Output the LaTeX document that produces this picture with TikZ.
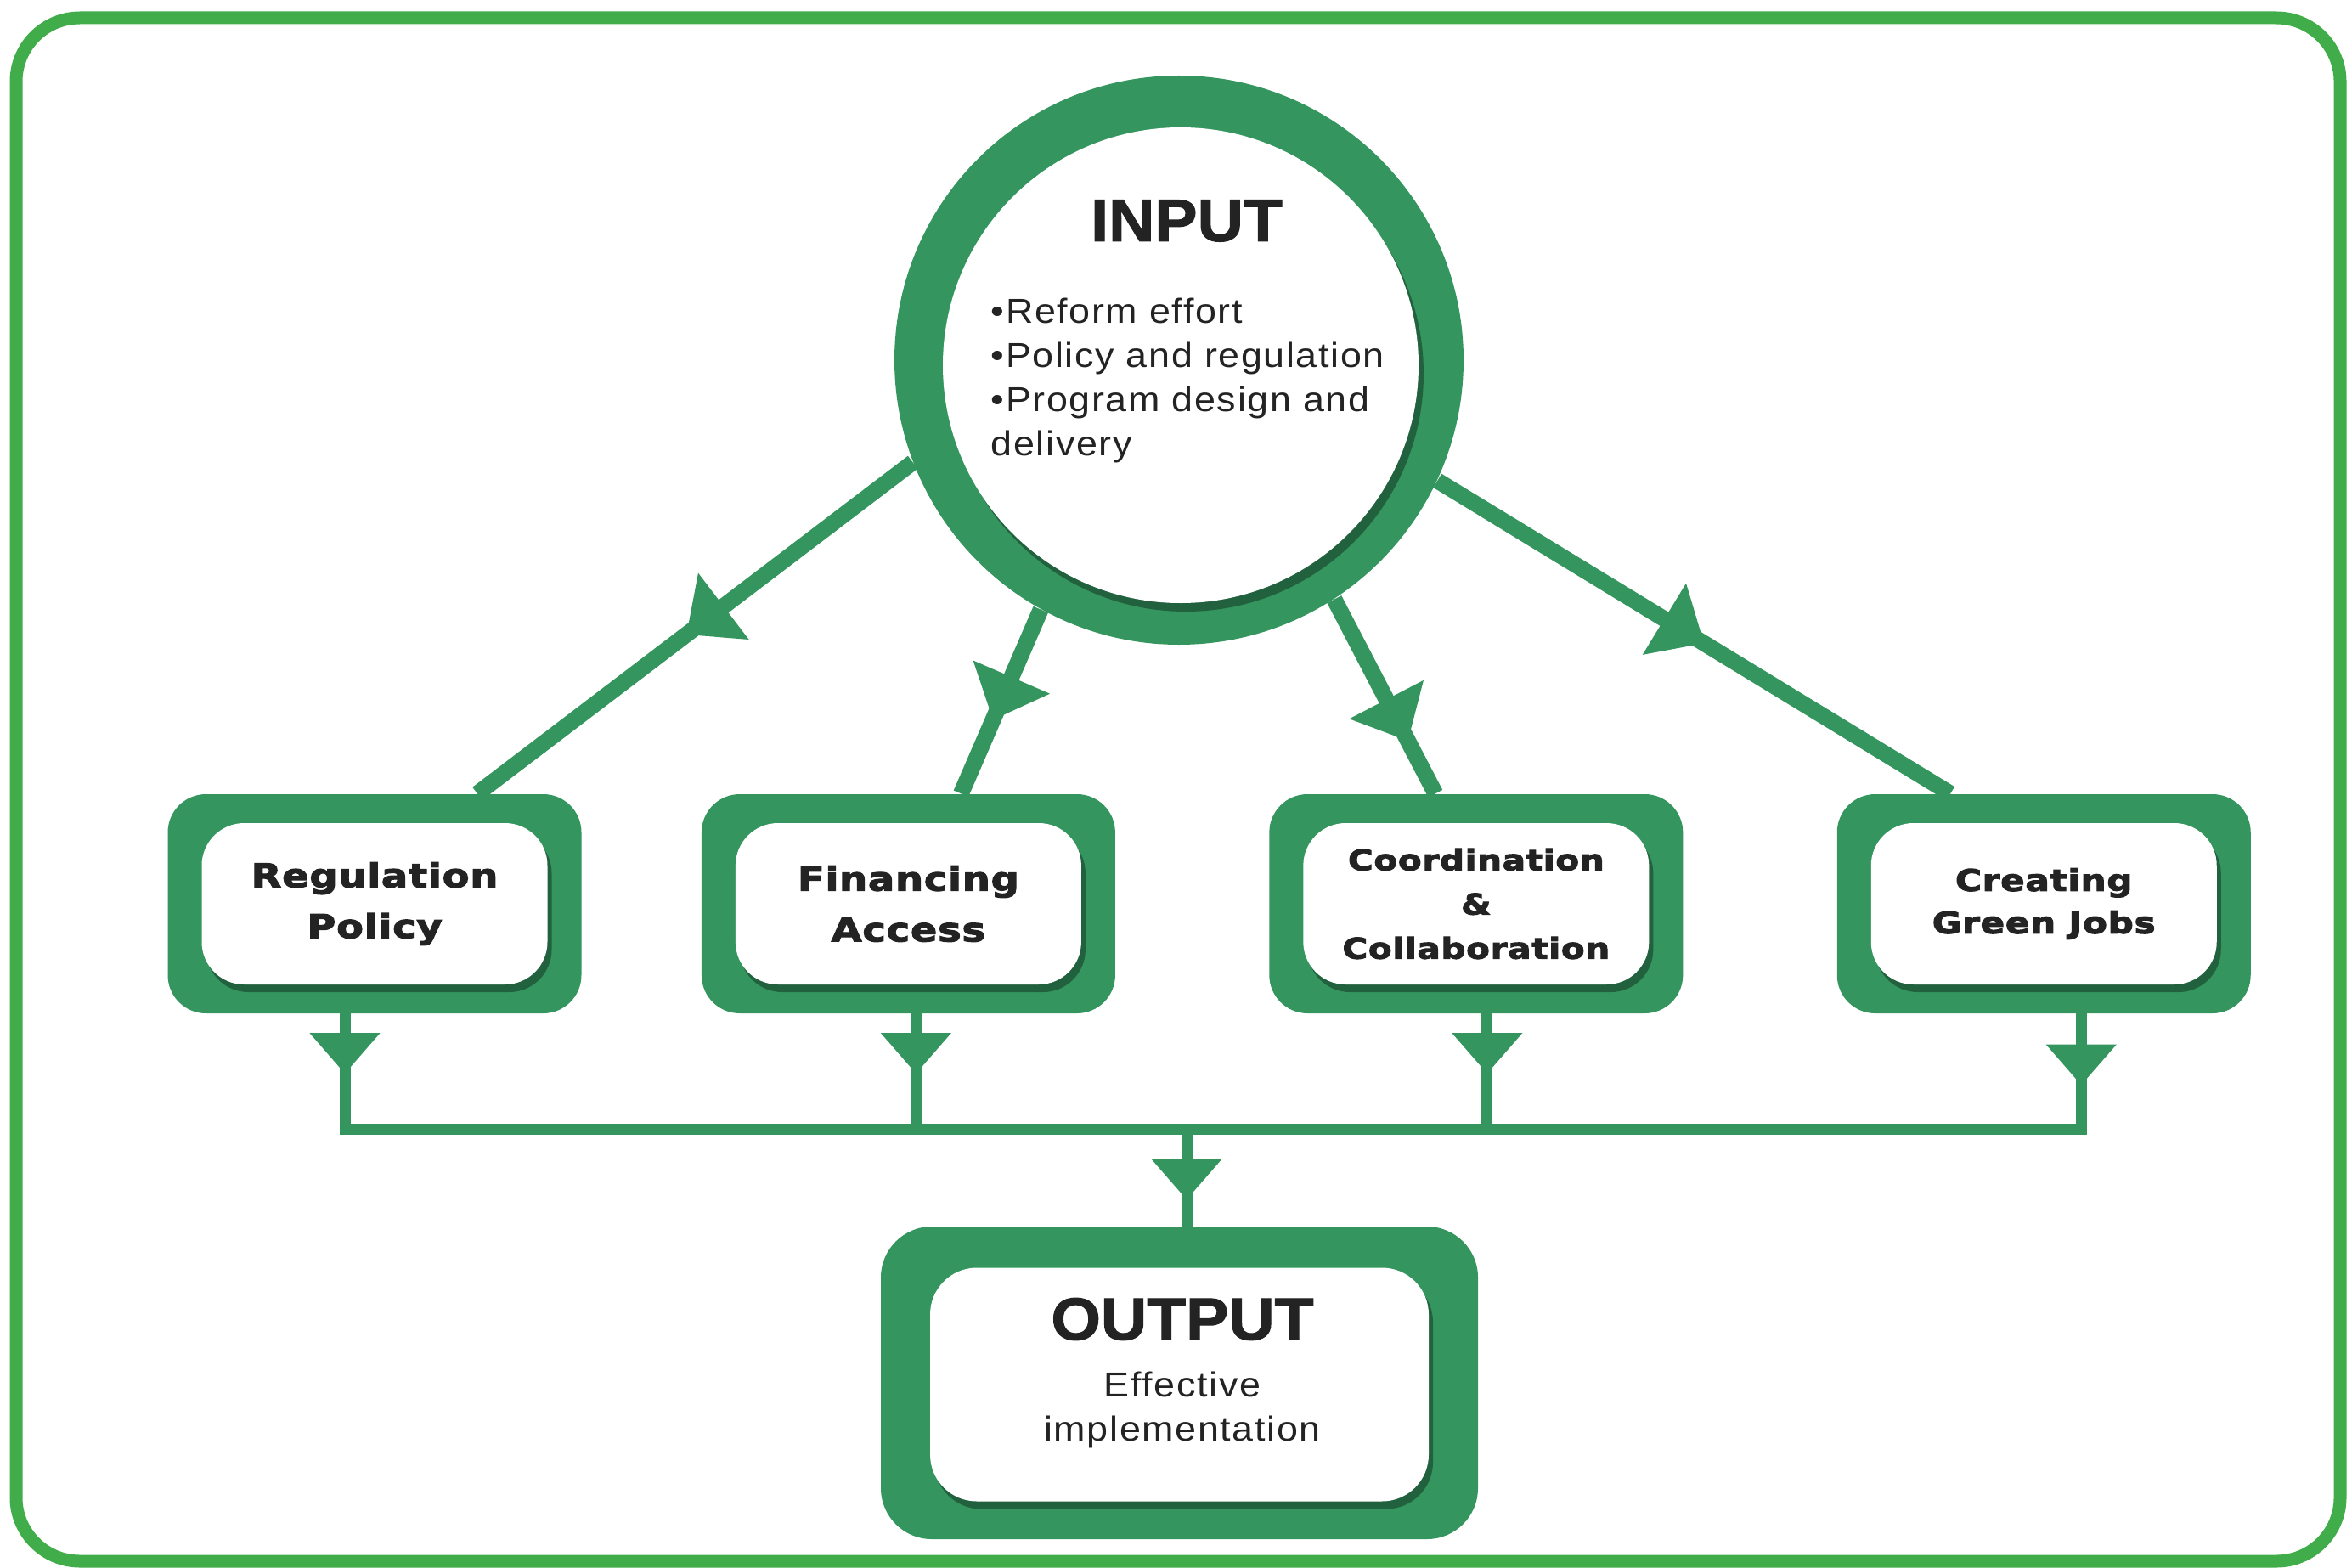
\documentclass[tikz,border=0pt]{standalone}
\usepackage{fontspec}
\setmainfont{Liberation Sans}
\newfontfamily\bodyfont{Liberation Sans}[FakeStretch=1.1,LetterSpace=4]
\newfontfamily\boxfont{DejaVu Sans}[FakeStretch=1.2,LetterSpace=2,FakeBold=3]
\newfontfamily\headfont{Liberation Sans}[FakeStretch=1.07,FakeBold=1.5]
\usetikzlibrary{arrows.meta, positioning, shadows, decorations.markings}

\definecolor{ringgreen}{RGB}{52,150,94}
\definecolor{framegreen}{RGB}{64,173,74}
\definecolor{inktext}{RGB}{35,35,35}

\tikzset{
  outbox/.style={rectangle, rounded corners=0.45cm, fill=ringgreen, minimum width=4.87cm, minimum height=2.58cm, inner sep=0pt},
  inbox/.style={rectangle, rounded corners=0.5cm, fill=white, minimum width=4.07cm, minimum height=1.90cm, inner sep=0pt, align=center, text=inktext, drop shadow={shadow xshift=0.05cm, shadow yshift=-0.09cm, fill=black, opacity=0.35}},
  link/.style={color=ringgreen, line width=0.19cm},
  drop/.style={color=ringgreen, line width=0.13cm, line cap=rect},
  bigarrow/.style={postaction={decorate}, decoration={markings, mark=at position #1 with {\arrow{Triangle[width=0.95cm,length=0.55cm]}}}},
  midarrow/.style={postaction={decorate}, decoration={markings, mark=at position #1 with {\arrow{Triangle[width=0.8cm,length=0.48cm]}}}},
  headtext/.style={font=\headfont\bfseries\fontsize{20pt}{20pt}\selectfont, text=inktext, inner sep=0pt},
  bodytext/.style={font=\bodyfont\fontsize{11.6pt}{14.8pt}\selectfont, text=inktext, inner sep=0pt},
}

\begin{document}
\begin{tikzpicture}
\useasboundingbox (0,0) rectangle (27.69,-18.45);
\draw[framegreen, line width=0.15cm, rounded corners=0.75cm] (0.19,-0.21) rectangle (27.55,-18.38);

% input circle
\node[circle, fill=ringgreen, minimum size=6.7cm, inner sep=0pt] (input) at (13.88,-4.24) {};
\node[circle, fill=white, minimum size=5.6cm, inner sep=0pt, drop shadow={shadow xshift=0.06cm, shadow yshift=-0.1cm, fill=black, opacity=0.35}] (input-bg) at (13.90,-4.30) {};
\node[headtext] (intitle) at (13.97,-2.60) {INPUT};
\node[bodytext, align=left, anchor=north west] (inlist) at (11.66,-3.50) {\textbullet Reform effort\\\textbullet Policy and regulation\\\textbullet Program design and\\delivery};

% middle boxes
\node[outbox] (reg) at (4.41,-10.64) {};
\node[outbox, right=1.40cm of reg] (fin) {};
\node[outbox, right=1.80cm of fin] (coo) {};
\node[outbox, right=1.80cm of coo] (job) {};
\node[inbox, font=\boxfont\bfseries\fontsize{11pt}{17pt}\selectfont] (reg-t) at (reg) {Regulation\\Policy};
\node[inbox, font=\boxfont\bfseries\fontsize{11pt}{17pt}\selectfont] (fin-t) at (fin) {Financing\\Access};
\node[inbox, font=\boxfont\bfseries\fontsize{9.6pt}{14.8pt}\selectfont] (coo-t) at (coo) {Coordination\\\&\\Collaboration};
\node[inbox, font=\boxfont\bfseries\fontsize{10pt}{14.2pt}\selectfont] (job-t) at (job) {Creating\\Green Jobs};

% output box
\node[outbox, rounded corners=0.6cm, minimum width=7.03cm, minimum height=3.68cm] (out) at (13.885,-16.28) {};
\node[inbox, rounded corners=0.55cm, minimum width=5.87cm, minimum height=2.75cm] (out-bg) at (13.885,-16.30) {};
\node[headtext] (outtitle) at (13.92,-15.53) {OUTPUT};
\node[bodytext, align=center, below=0.36cm of outtitle] (outtext) {Effective\\implementation};

% input to boxes
\draw[link, bigarrow=0.52] (input.201.5) -- ([xshift=1.21cm]reg.north);
\draw[link, bigarrow=0.60] (input.241.8) -- ([xshift=0.62cm]fin.north);
\draw[link, bigarrow=0.73] (input.303.2) -- ([xshift=-0.48cm]coo.north);
\draw[link, bigarrow=0.52] (input.335.8) -- ([xshift=-1.10cm]job.north);

% boxes to output
\coordinate (bus) at (13.97,-13.29);
\coordinate (d1) at ([xshift=-0.35cm]reg.south);
\coordinate (d2) at ([xshift=0.09cm]fin.south);
\coordinate (d3) at ([xshift=0.13cm]coo.south);
\coordinate (d4) at ([xshift=0.44cm]job.south);
\draw[drop, midarrow=0.52] (d1) -- (d1 |- bus);
\draw[drop, midarrow=0.52] (d2) -- (d2 |- bus);
\draw[drop, midarrow=0.52] (d3) -- (d3 |- bus);
\draw[drop, midarrow=0.62] (d4) -- (d4 |- bus);
\draw[drop] (d1 |- bus) -- (d4 |- bus);
\draw[drop, midarrow=0.73] (bus) -- (bus |- out.north);
\end{tikzpicture}
\end{document}
